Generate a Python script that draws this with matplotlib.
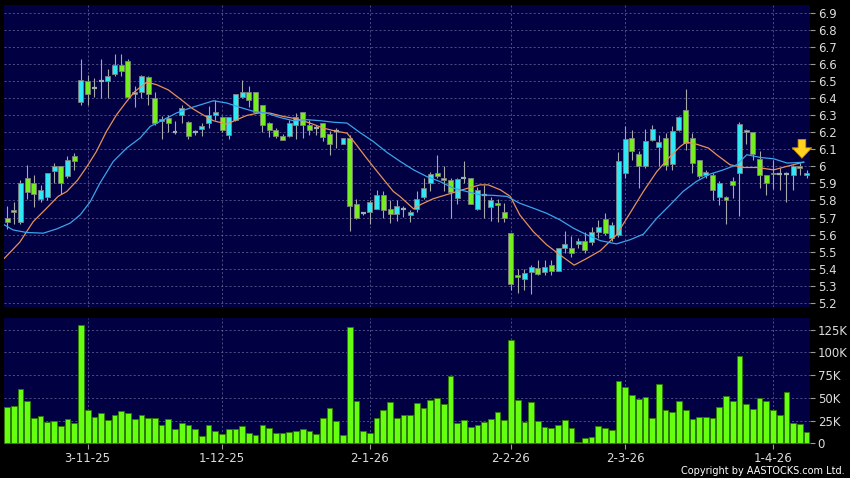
import numpy as np
import matplotlib
matplotlib.use("Agg")
import matplotlib.pyplot as plt

# daily OHLC (HKD)
opens = [5.70, 5.745, 5.673, 5.93, 5.90, 5.81, 5.82, 5.975, 6.00, 5.945,
         6.06, 6.38, 6.50, 6.46, 6.50, 6.50, 6.545, 6.594, 6.62, 6.425,
         6.44, 6.525, 6.40, 6.27, 6.285, 6.20, 6.305, 6.26, 6.20, 6.22,
         6.255, 6.30, 6.29, 6.186, 6.275, 6.406, 6.44, 6.44, 6.36, 6.255,
         6.215, 6.18, 6.18, 6.245, 6.32, 6.245, 6.225, 6.255, 6.19, 6.21,
         6.13, 6.17, 5.78, 5.725, 5.735, 5.75, 5.83, 5.75, 5.72, 5.75,
         5.716, 5.75, 5.818, 5.90, 5.96, 5.932, 5.918, 5.814, 5.93, 5.93,
         5.75, 5.835, 5.76, 5.788, 5.73, 5.608, 5.363, 5.34, 5.378, 5.402,
         5.378, 5.418, 5.386, 5.52, 5.52, 5.543, 5.56, 5.555, 5.617, 5.69,
         5.578, 5.598, 5.96, 6.17, 6.073, 6.004, 6.157, 6.114, 6.17, 6.016,
         6.216, 6.33, 6.17, 6.04, 5.95, 5.95, 5.818, 5.818, 5.916, 5.96,
         6.20, 6.20, 6.043, 5.947, 5.96, 5.955, 5.955, 5.951, 6.00, 5.947]
highs = [5.77, 5.79, 5.92, 6.01, 5.95, 5.89, 5.96, 6.02, 6.00, 6.06,
         6.08, 6.63, 6.54, 6.52, 6.63, 6.57, 6.66, 6.66, 6.63, 6.47,
         6.54, 6.53, 6.44, 6.295, 6.30, 6.27, 6.36, 6.265, 6.215, 6.255,
         6.355, 6.39, 6.295, 6.29, 6.425, 6.51, 6.475, 6.44, 6.36, 6.26,
         6.225, 6.19, 6.275, 6.315, 6.32, 6.275, 6.245, 6.255, 6.21, 6.225,
         6.17, 6.185, 5.81, 5.735, 5.805, 5.86, 5.853, 5.80, 5.80, 5.765,
         5.745, 5.853, 5.93, 5.97, 6.07, 6.00, 5.93, 5.93, 6.03, 5.93,
         5.88, 5.89, 5.82, 5.81, 5.785, 5.608, 5.40, 5.40, 5.42, 5.45,
         5.45, 5.45, 5.523, 5.62, 5.59, 5.58, 5.617, 5.647, 5.686, 5.725,
         5.676, 6.084, 6.235, 6.216, 6.092, 6.22, 6.245, 6.186, 6.196, 6.235,
         6.294, 6.457, 6.196, 6.04, 5.98, 5.96, 5.912, 5.824, 5.94, 6.26,
         6.22, 6.20, 6.09, 5.95, 6.04, 5.99, 5.97, 6.01, 6.02, 5.98]
lows = [5.63, 5.66, 5.66, 5.81, 5.76, 5.79, 5.80, 5.90, 5.84, 5.93,
        5.98, 6.36, 6.36, 6.41, 6.40, 6.40, 6.53, 6.53, 6.40, 6.35,
        6.40, 6.36, 6.245, 6.16, 6.20, 6.19, 6.255, 6.16, 6.185, 6.18,
        6.225, 6.275, 6.205, 6.16, 6.265, 6.40, 6.35, 6.32, 6.20, 6.175,
        6.17, 6.157, 6.175, 6.16, 6.165, 6.186, 6.186, 6.147, 6.07, 6.11,
        6.13, 5.62, 5.69, 5.715, 5.66, 5.75, 5.70, 5.67, 5.68, 5.705,
        5.675, 5.735, 5.81, 5.853, 5.935, 5.853, 5.70, 5.78, 5.90, 5.78,
        5.745, 5.70, 5.68, 5.676, 5.676, 5.275, 5.257, 5.275, 5.25, 5.36,
        5.36, 5.36, 5.383, 5.49, 5.47, 5.52, 5.49, 5.54, 5.58, 5.60,
        5.56, 5.588, 5.93, 6.04, 5.876, 5.99, 6.147, 6.00, 5.98, 5.98,
        6.206, 6.098, 5.96, 5.93, 5.935, 5.80, 5.775, 5.66, 5.814, 5.71,
        6.13, 6.04, 5.876, 5.833, 5.87, 5.86, 5.79, 5.86, 5.95, 5.93]
closes = [5.675, 5.732, 5.902, 5.85, 5.84, 5.86, 5.96, 6.00, 5.90, 6.04,
          6.03, 6.51, 6.425, 6.46, 6.50, 6.53, 6.594, 6.563, 6.41, 6.44,
          6.53, 6.425, 6.255, 6.28, 6.255, 6.20, 6.345, 6.18, 6.20, 6.235,
          6.30, 6.32, 6.215, 6.29, 6.425, 6.44, 6.39, 6.32, 6.245, 6.215,
          6.18, 6.157, 6.255, 6.29, 6.245, 6.215, 6.225, 6.176, 6.13, 6.21,
          6.17, 5.77, 5.70, 5.725, 5.79, 5.83, 5.745, 5.72, 5.77, 5.75,
          5.73, 5.81, 5.876, 5.957, 5.945, 5.918, 5.85, 5.927, 5.93, 5.78,
          5.863, 5.835, 5.80, 5.773, 5.70, 5.308, 5.35, 5.376, 5.408, 5.37,
          5.408, 5.388, 5.52, 5.543, 5.49, 5.56, 5.51, 5.617, 5.647, 5.607,
          5.657, 6.03, 6.16, 6.092, 6.004, 6.15, 6.22, 6.143, 6.006, 6.21,
          6.29, 6.137, 6.02, 5.945, 5.97, 5.863, 5.902, 5.802, 5.89, 6.25,
          6.214, 6.073, 5.95, 5.90, 5.955, 5.955, 5.955, 6.00, 5.99, 5.96]

# volume in thousands of shares
volume = [39.7, 41.2, 59.2, 46, 28.3, 30.5, 23.2, 25, 18.8, 27.2,
          22, 130.5, 36.8, 29.4, 33.5, 26.1, 31.3, 36, 33.5, 27.2,
          30.9, 27.9, 27.6, 20.6, 26.8, 15.4, 22.4, 20.6, 16.2, 8.5,
          19.9, 14, 10.7, 15.4, 15.4, 19.1, 11.4, 9.2, 19.9, 16.5,
          11.4, 11.4, 12.5, 13.6, 15.8, 14, 10.3, 28.3, 38.6, 24.6,
          8.8, 127.6, 46.7, 13.6, 11, 28.3, 36.4, 44.9, 27.6, 30.9,
          31.6, 44.1, 39, 47.8, 50, 43.4, 73.5, 22.8, 25.4, 18,
          20.2, 23.9, 27.2, 34.6, 25.7, 114, 47.4, 23.9, 45.6, 24.6,
          18.4, 16.9, 19.9, 26.1, 16.5, 1.8, 6.3, 6.6, 19.5, 16.9,
          14.7, 68.8, 62.1, 53.3, 48.5, 50.4, 28.3, 64.7, 37.1, 34.2,
          46.3, 36.8, 26.8, 29, 29.4, 27.9, 40.1, 51.8, 46.7, 96,
          43.4, 38.2, 50, 46.7, 36.8, 31.3, 56.3, 22, 21.3, 12.1]

# moving averages (bar position, price)
ma_short_x = [-0.4, 1.9, 3.9, 5.9, 7.6, 8.9, 10.5, 11.9, 13.3, 14.8, 16.3, 17.8, 19.0,
              20.8, 22.3, 24.0, 26.0, 27.5, 28.7, 30.7, 32.7, 34.2, 35.7, 37.4, 39.1,
              41.1, 43.1, 45.1, 47.1, 49.1, 50.6, 52.0, 53.5, 55.5, 57.5, 58.5, 60.5,
              61.5, 63.4, 65.9, 68.4, 70.4, 71.6, 73.4, 74.9, 76.3, 78.3, 80.3, 82.3,
              84.4, 86.3, 88.3, 90.7, 92.7, 94.7, 96.7, 98.7, 100.2, 101.1, 102.6,
              104.4, 105.6, 107.6, 109.6, 111.6, 114.1, 116.0, 118.5]
ma_short = [5.46, 5.555, 5.676, 5.755, 5.824, 5.853, 5.92, 6.0, 6.088, 6.206, 6.304,
            6.382, 6.44, 6.496, 6.48, 6.45, 6.39, 6.343, 6.314, 6.269, 6.249, 6.275,
            6.30, 6.314, 6.314, 6.294, 6.28, 6.255, 6.225, 6.206, 6.196, 6.127,
            6.049, 5.95, 5.853, 5.823, 5.751, 5.775, 5.81, 5.84, 5.87, 5.892, 5.892,
            5.863, 5.824, 5.716, 5.618, 5.54, 5.48, 5.42, 5.46, 5.505, 5.598, 5.725,
            5.853, 5.97, 6.059, 6.118, 6.143, 6.131, 6.108, 6.069, 6.01, 5.994,
            5.994, 5.98, 6.0, 6.025]
ma_long_x = [-0.4, 0.9, 2.9, 5.4, 7.4, 9.4, 10.9, 12.4, 13.8, 15.8, 17.8, 19.8, 21.3,
             23.3, 25.2, 27.2, 29.0, 30.7, 32.7, 34.7, 36.7, 38.6, 40.6, 42.6, 44.6,
             46.6, 48.6, 50.6, 52.5, 54.5, 56.5, 58.5, 60.5, 62.5, 64.4, 66.4, 68.4,
             70.4, 72.4, 74.4, 76.3, 78.3, 80.3, 82.3, 84.3, 86.3, 88.3, 90.7, 92.7,
             94.7, 96.7, 98.7, 100.6, 102.6, 104.6, 106.6, 108.6, 110.1, 112.1,
             114.1, 116.1, 118.6]
ma_long = [5.657, 5.627, 5.612, 5.608, 5.633, 5.667, 5.716, 5.794, 5.90, 6.029, 6.108,
           6.167, 6.235, 6.275, 6.314, 6.343, 6.365, 6.386, 6.373, 6.347, 6.324,
           6.314, 6.288, 6.269, 6.275, 6.269, 6.26, 6.255, 6.20, 6.147, 6.084,
           6.03, 5.98, 5.94, 5.912, 5.873, 5.853, 5.833, 5.83, 5.824, 5.784, 5.755,
           5.725, 5.686, 5.637, 5.598, 5.564, 5.545, 5.569, 5.602, 5.696, 5.775,
           5.853, 5.912, 5.955, 5.98, 6.01, 6.069, 6.053, 6.045, 6.02, 6.025]

tick_pos = [12, 32, 54, 75, 92, 114]
tick_labels = ["3-11-25", "1-12-25", "2-1-26", "2-2-26", "2-3-26", "1-4-26"]

BG = "#000042"
GRID = "#6a6a9a"
TXT = "#dcdcdc"
UP = "#2ee8f6"
DOWN = "#74ee1c"

o = np.array(opens); h = np.array(highs); l = np.array(lows); c = np.array(closes)
x = np.arange(len(o))

fig = plt.figure(figsize=(8.5, 4.78), dpi=100, facecolor="black")
ax = fig.add_axes([4 / 850, 1 - 307 / 478, 806 / 850, 302 / 478], facecolor=BG)
axv = fig.add_axes([4 / 850, 1 - 444 / 478, 806 / 850, 126 / 478], facecolor=BG, sharex=ax)

for a in (ax, axv):
    for s in a.spines.values():
        s.set_visible(False)
    a.yaxis.tick_right()
    a.tick_params(axis="y", colors="#9a9a9a", labelcolor=TXT, labelsize=8.5,
                  length=3.5, pad=2)
    a.grid(True, color=GRID, lw=0.5, ls=(0, (3, 3)))
    a.set_axisbelow(True)

# candles
ax.vlines(x, l, h, color="#a8a8a8", lw=0.8, zorder=2)
up = c >= o
body_lo = np.minimum(o, c)
body_h = np.abs(c - o)
flat = body_h < 0.004
cols = np.where(up, UP, DOWN)
ax.bar(x[~flat], body_h[~flat], bottom=body_lo[~flat], width=0.74,
       color=cols[~flat], edgecolor="#808080", lw=0.6, zorder=3)
ax.hlines(c[flat], x[flat] - 0.37, x[flat] + 0.37, color="#9ab0b0", lw=1.6, zorder=3)

ax.plot(ma_short_x, ma_short, color="#e8905a", lw=0.9, zorder=4)
ax.plot(ma_long_x, ma_long, color="#3aa4ea", lw=0.9, zorder=4)

# marker arrow over the latest session
last = len(x) - 2
ax.annotate("", xy=(last + 0.3, h[last] + 0.012), xytext=(last + 0.3, h[last] + 0.155),
            arrowprops=dict(arrowstyle="simple,head_length=0.75,head_width=1.4,tail_width=0.55",
                            fc="#ffd21f", ec="#d09000", lw=0.6, mutation_scale=10),
            zorder=6)

ax.set_ylim(5.174, 6.949)
ax.set_yticks(np.round(np.arange(5.2, 6.95, 0.1), 1))
ax.set_yticklabels([f"{v:g}" for v in np.round(np.arange(5.2, 6.95, 0.1), 1)])
ax.set_xlim(-0.45, 119.5)
ax.tick_params(axis="x", bottom=False, labelbottom=False)

# volume
axv.bar(x, volume, width=0.85, color="#66ff11", edgecolor="#2f7a00", lw=0.6, zorder=3)
axv.set_ylim(-0.8, 137.7)
axv.set_yticks([0, 25, 50, 75, 100, 125])
axv.set_yticklabels(["0", "25K", "50K", "75K", "100K", "125K"])
axv.set_xticks(tick_pos)
axv.set_xticklabels(tick_labels)
axv.tick_params(axis="x", colors="#9a9a9a", labelcolor=TXT, labelsize=8.5,
                length=3.5, pad=2)
ax.set_xticks(tick_pos)

fig.text(845 / 850, 1 - 471 / 478, "Copyright by AASTOCKS.com Ltd.", color="white",
         fontsize=7, ha="right", va="center")

fig.savefig("out.png", dpi=100, facecolor="black")
